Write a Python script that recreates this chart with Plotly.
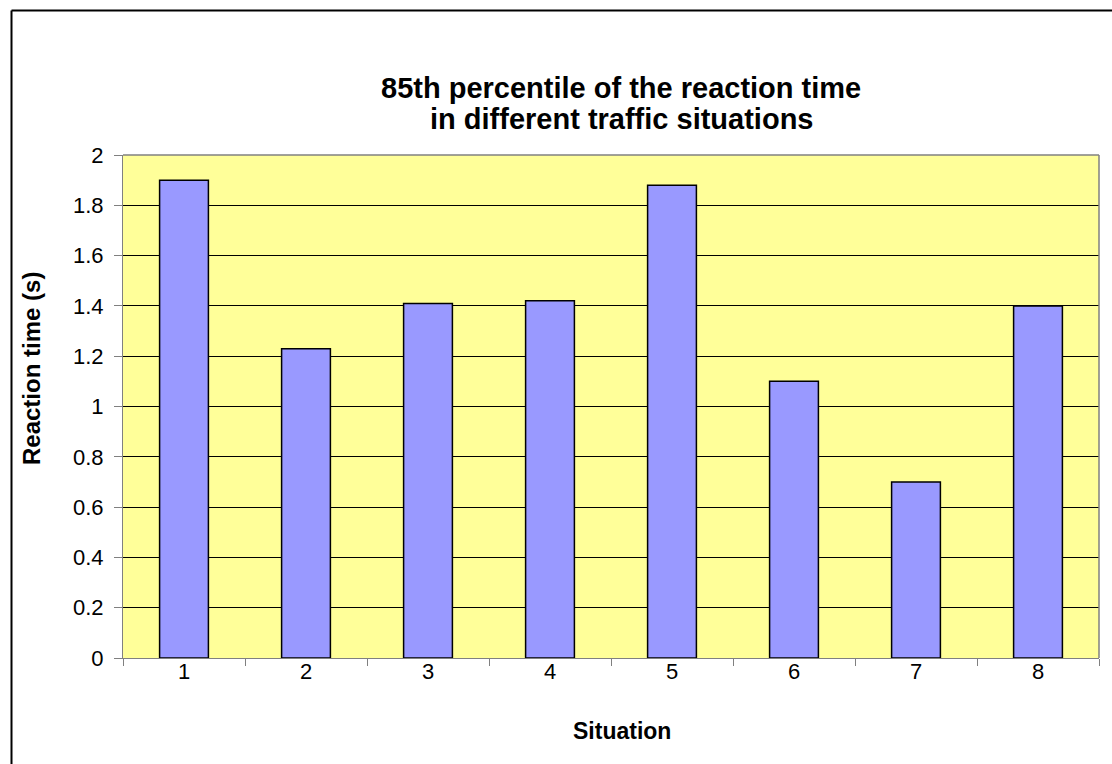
import plotly.graph_objects as go

# Data
situations = ["1", "2", "3", "4", "5", "6", "7", "8"]
reaction_time = [1.90, 1.23, 1.41, 1.42, 1.88, 1.10, 0.70, 1.40]
y_ticks = [0, 0.2, 0.4, 0.6, 0.8, 1, 1.2, 1.4, 1.6, 1.8, 2]
y_tick_labels = ["0", "0.2", "0.4", "0.6", "0.8", "1", "1.2", "1.4", "1.6", "1.8", "2"]

W, H = 1112, 764
L, R, T, B = 123, 13, 155, 106
PW, PH = W - L - R, H - T - B


def xp(px):
    return (px - L) / PW


def yp(py):
    return (H - B - py) / PH


FONT = "Liberation Sans, Arial, sans-serif"

fig = go.Figure()
fig.add_trace(go.Bar(
    x=situations,
    y=reaction_time,
    width=0.4,
    marker=dict(color="#9999FF", line=dict(color="#000000", width=1.5)),
    hoverinfo="x+y",
))

fig.update_layout(
    width=W, height=H,
    margin=dict(l=L, r=R, t=T, b=B, pad=0),
    autosize=False,
    paper_bgcolor="#FFFFFF",
    plot_bgcolor="#FFFF99",
    font=dict(family=FONT, size=22, color="#000000"),
    showlegend=False,
    xaxis=dict(
        type="category",
        tickson="boundaries",
        ticks="outside", ticklen=7, tickwidth=1, tickcolor="#808080",
        showline=True, linecolor="#808080", linewidth=1,
        showgrid=False, zeroline=False,
        tickfont=dict(size=22),
        ticklabelstandoff=-6,
    ),
    yaxis=dict(
        range=[0, 2],
        tickvals=y_ticks, ticktext=y_tick_labels,
        ticks="outside", ticklen=8, tickwidth=1, tickcolor="#808080",
        showline=True, linecolor="#808080", linewidth=1,
        showgrid=True, gridcolor="#000000", gridwidth=1,
        zeroline=False,
        tickfont=dict(size=22),
        ticklabelstandoff=6,
    ),
    shapes=[
        # plot area border (top and right)
        dict(type="line", xref="paper", yref="paper", x0=0, x1=1, y0=1, y1=1,
             line=dict(color="#808080", width=1.5)),
        dict(type="line", xref="paper", yref="paper", x0=1, x1=1, y0=0, y1=1,
             line=dict(color="#808080", width=1.5)),
        # chart area frame
        dict(type="line", xref="paper", yref="paper",
             x0=xp(11.5), x1=xp(W + 20), y0=yp(10.5), y1=yp(10.5),
             line=dict(color="#000000", width=2)),
        dict(type="line", xref="paper", yref="paper",
             x0=xp(11.5), x1=xp(11.5), y0=yp(10.5), y1=yp(H + 20),
             line=dict(color="#000000", width=2)),
    ],
    annotations=[
        dict(text="<b>85th percentile of the reaction time</b>", xref="paper", yref="paper",
             x=xp(621), y=yp(88), xanchor="center", yanchor="middle",
             showarrow=False, font=dict(size=29)),
        dict(text="<b>in different traffic situations</b>", xref="paper", yref="paper",
             x=xp(621), y=yp(119), xanchor="center", yanchor="middle",
             showarrow=False, font=dict(size=29)),
        dict(text="<b>Situation</b>", xref="paper", yref="paper",
             x=xp(622), y=yp(731), xanchor="center", yanchor="middle",
             showarrow=False, font=dict(size=23)),
        dict(text="<b>Reaction time (s)</b>", xref="paper", yref="paper",
             x=xp(31), y=yp(369), xanchor="center", yanchor="middle",
             textangle=-90, showarrow=False, font=dict(size=24)),
    ],
)

fig.write_html("out.html")
